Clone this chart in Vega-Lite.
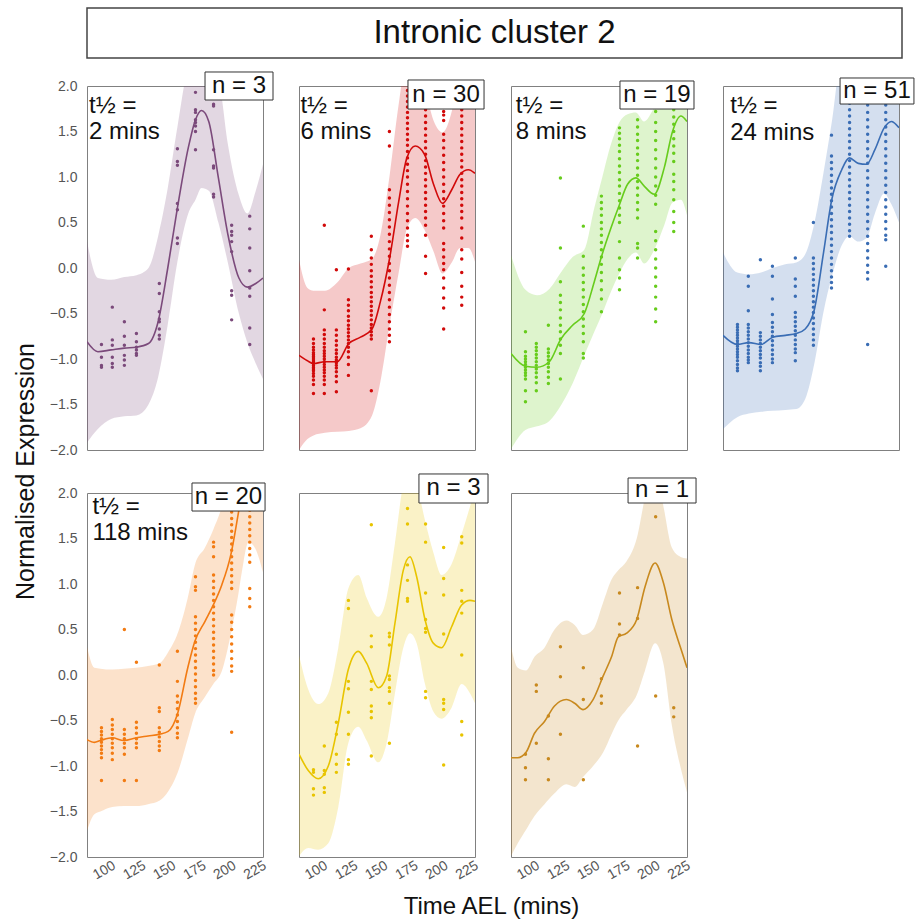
{
"$schema":"https://vega.github.io/schema/vega-lite/v6.json",
"padding":{"left":12,"top":7,"right":5,"bottom":5},
"config":{"font":"Liberation Sans","view":{"stroke":"#808080","strokeWidth":1},
"circle":{"size":12,"opacity":1},
"axis":{"grid":false,"ticks":false,"domain":false,"labelColor":"#555555","labelFontSize":14,"titleColor":"#111111","titleFontWeight":"normal"},
"axisX":{"labelAngle":-30,"labelAlign":"center","labelBaseline":"middle","labelPadding":13,"labelFlush":false},
"axisY":{"labelPadding":10}},
"datasets":{
"p1":[{"t":98,"v":-0.84},{"t":98,"v":-0.98},{"t":98,"v":-1.07},{"t":98,"v":-1.09},{"t":107,"v":-0.43},{"t":107,"v":-0.79},{"t":107,"v":-0.85},{"t":107,"v":-0.98},{"t":107,"v":-1.05},{"t":107,"v":-1.09},{"t":117,"v":-0.59},{"t":117,"v":-0.75},{"t":117,"v":-0.85},{"t":117,"v":-0.96},{"t":117,"v":-1.01},{"t":117,"v":-1.07},{"t":127,"v":-0.72},{"t":127,"v":-0.81},{"t":127,"v":-0.87},{"t":127,"v":-0.9},{"t":127,"v":-0.94},{"t":127,"v":-0.96},{"t":146,"v":-0.17},{"t":146,"v":-0.28},{"t":146,"v":-0.48},{"t":146,"v":-0.56},{"t":146,"v":-0.59},{"t":146,"v":-0.67},{"t":146,"v":-0.74},{"t":146,"v":-0.78},{"t":161,"v":1.31},{"t":161,"v":1.17},{"t":161,"v":1.13},{"t":161,"v":0.71},{"t":161,"v":0.64},{"t":161,"v":0.33},{"t":161,"v":0.27},{"t":176,"v":1.93},{"t":176,"v":1.74},{"t":176,"v":1.71},{"t":176,"v":1.63},{"t":176,"v":1.6},{"t":176,"v":1.56},{"t":176,"v":1.5},{"t":176,"v":1.3},{"t":191,"v":1.8},{"t":191,"v":1.78},{"t":191,"v":1.3},{"t":191,"v":1.12},{"t":191,"v":1.1},{"t":191,"v":0.81},{"t":191,"v":0.78},{"t":206,"v":0.47},{"t":206,"v":0.4},{"t":206,"v":0.36},{"t":206,"v":0.29},{"t":206,"v":0.18},{"t":206,"v":-0.25},{"t":206,"v":-0.3},{"t":206,"v":-0.57},{"t":221,"v":0.57},{"t":221,"v":0.43},{"t":221,"v":0.22},{"t":221,"v":-0.03},{"t":221,"v":-0.22},{"t":221,"v":-0.31},{"t":221,"v":-0.66},{"t":221,"v":-0.84}],
"p2":[{"t":98,"v":-0.78},{"t":98,"v":-0.83},{"t":98,"v":-0.87},{"t":98,"v":-0.9},{"t":98,"v":-0.93},{"t":98,"v":-0.95},{"t":98,"v":-0.97},{"t":98,"v":-0.99},{"t":98,"v":-1.01},{"t":98,"v":-1.03},{"t":98,"v":-1.05},{"t":98,"v":-1.07},{"t":98,"v":-1.09},{"t":98,"v":-1.11},{"t":98,"v":-1.13},{"t":98,"v":-1.16},{"t":98,"v":-1.19},{"t":98,"v":-1.23},{"t":98,"v":-1.28},{"t":98,"v":-1.38},
{"t":107,"v":0.47},{"t":107,"v":-0.46},{"t":107,"v":-0.68},{"t":107,"v":-0.73},{"t":107,"v":-0.78},{"t":107,"v":-0.83},{"t":107,"v":-0.87},{"t":107,"v":-0.91},{"t":107,"v":-0.94},{"t":107,"v":-0.97},{"t":107,"v":-1.0},{"t":107,"v":-1.03},{"t":107,"v":-1.06},{"t":107,"v":-1.09},{"t":107,"v":-1.12},{"t":107,"v":-1.15},{"t":107,"v":-1.19},{"t":107,"v":-1.23},{"t":107,"v":-1.28},{"t":107,"v":-1.38},
{"t":117,"v":-0.02},{"t":117,"v":-0.68},{"t":117,"v":-0.74},{"t":117,"v":-0.8},{"t":117,"v":-0.85},{"t":117,"v":-0.9},{"t":117,"v":-0.94},{"t":117,"v":-0.98},{"t":117,"v":-1.01},{"t":117,"v":-1.04},{"t":117,"v":-1.07},{"t":117,"v":-1.1},{"t":117,"v":-1.14},{"t":117,"v":-1.19},{"t":117,"v":-1.25},{"t":117,"v":-1.36},
{"t":127,"v":-0.01},{"t":127,"v":-0.35},{"t":127,"v":-0.41},{"t":127,"v":-0.47},{"t":127,"v":-0.53},{"t":127,"v":-0.58},{"t":127,"v":-0.63},{"t":127,"v":-0.67},{"t":127,"v":-0.71},{"t":127,"v":-0.75},{"t":127,"v":-0.79},{"t":127,"v":-0.83},{"t":127,"v":-0.87},{"t":127,"v":-0.92},{"t":127,"v":-0.98},{"t":127,"v":-1.06},{"t":127,"v":-1.18},
{"t":146,"v":0.35},{"t":146,"v":0.2},{"t":146,"v":0.11},{"t":146,"v":0.04},{"t":146,"v":-0.03},{"t":146,"v":-0.09},{"t":146,"v":-0.15},{"t":146,"v":-0.21},{"t":146,"v":-0.27},{"t":146,"v":-0.32},{"t":146,"v":-0.37},{"t":146,"v":-0.42},{"t":146,"v":-0.47},{"t":146,"v":-0.52},{"t":146,"v":-0.57},{"t":146,"v":-0.62},{"t":146,"v":-0.66},{"t":146,"v":-0.7},{"t":146,"v":-0.74},{"t":146,"v":-0.78},{"t":146,"v":-1.35},
{"t":161,"v":1.5},{"t":161,"v":1.34},{"t":161,"v":0.86},{"t":161,"v":0.77},{"t":161,"v":0.69},{"t":161,"v":0.61},{"t":161,"v":0.53},{"t":161,"v":0.45},{"t":161,"v":0.37},{"t":161,"v":0.29},{"t":161,"v":0.21},{"t":161,"v":0.13},{"t":161,"v":0.05},{"t":161,"v":-0.03},{"t":161,"v":-0.11},{"t":161,"v":-0.19},{"t":161,"v":-0.27},{"t":161,"v":-0.35},{"t":161,"v":-0.43},{"t":161,"v":-0.51},{"t":161,"v":-0.59},{"t":161,"v":-0.67},{"t":161,"v":-0.74},{"t":161,"v":-0.81},
{"t":176,"v":1.95},{"t":176,"v":1.89},{"t":176,"v":1.83},{"t":176,"v":1.77},{"t":176,"v":1.71},{"t":176,"v":1.65},{"t":176,"v":1.59},{"t":176,"v":1.53},{"t":176,"v":1.47},{"t":176,"v":1.41},{"t":176,"v":1.35},{"t":176,"v":1.28},{"t":176,"v":1.21},{"t":176,"v":1.14},{"t":176,"v":1.07},{"t":176,"v":1.0},{"t":176,"v":0.92},{"t":176,"v":0.84},{"t":176,"v":0.76},{"t":176,"v":0.68},{"t":176,"v":0.6},{"t":176,"v":0.52},{"t":176,"v":0.44},{"t":176,"v":0.36},{"t":176,"v":0.3},{"t":176,"v":0.24},
{"t":191,"v":1.95},{"t":191,"v":1.88},{"t":191,"v":1.81},{"t":191,"v":1.74},{"t":191,"v":1.67},{"t":191,"v":1.6},{"t":191,"v":1.53},{"t":191,"v":1.46},{"t":191,"v":1.39},{"t":191,"v":1.32},{"t":191,"v":1.25},{"t":191,"v":1.18},{"t":191,"v":1.11},{"t":191,"v":1.04},{"t":191,"v":0.97},{"t":191,"v":0.9},{"t":191,"v":0.83},{"t":191,"v":0.76},{"t":191,"v":0.69},{"t":191,"v":0.62},{"t":191,"v":0.55},{"t":191,"v":0.47},{"t":191,"v":0.36},{"t":191,"v":0.13},{"t":191,"v":-0.06},
{"t":206,"v":1.72},{"t":206,"v":1.68},{"t":206,"v":1.62},{"t":206,"v":1.47},{"t":206,"v":1.4},{"t":206,"v":1.32},{"t":206,"v":1.24},{"t":206,"v":1.16},{"t":206,"v":1.08},{"t":206,"v":1.0},{"t":206,"v":0.92},{"t":206,"v":0.84},{"t":206,"v":0.76},{"t":206,"v":0.68},{"t":206,"v":0.6},{"t":206,"v":0.52},{"t":206,"v":0.44},{"t":206,"v":0.27},{"t":206,"v":0.2},{"t":206,"v":0.12},{"t":206,"v":0.05},{"t":206,"v":-0.02},{"t":206,"v":-0.11},{"t":206,"v":-0.22},{"t":206,"v":-0.33},{"t":206,"v":-0.44},{"t":206,"v":-0.67},
{"t":221,"v":1.95},{"t":221,"v":1.88},{"t":221,"v":1.81},{"t":221,"v":1.74},{"t":221,"v":1.67},{"t":221,"v":1.6},{"t":221,"v":1.53},{"t":221,"v":1.46},{"t":221,"v":1.39},{"t":221,"v":1.32},{"t":221,"v":1.25},{"t":221,"v":1.18},{"t":221,"v":1.11},{"t":221,"v":1.04},{"t":221,"v":0.97},{"t":221,"v":0.9},{"t":221,"v":0.83},{"t":221,"v":0.76},{"t":221,"v":0.69},{"t":221,"v":0.62},{"t":221,"v":0.55},{"t":221,"v":0.44},{"t":221,"v":0.33},{"t":221,"v":0.2},{"t":221,"v":0.1},{"t":221,"v":-0.05},{"t":221,"v":-0.2},{"t":221,"v":-0.32},{"t":221,"v":-0.41}],
"p3":[{"t":98,"v":-0.7},{"t":98,"v":-0.92},{"t":98,"v":-0.97},{"t":98,"v":-1.0},{"t":98,"v":-1.03},{"t":98,"v":-1.06},{"t":98,"v":-1.09},{"t":98,"v":-1.12},{"t":98,"v":-1.15},{"t":98,"v":-1.18},{"t":98,"v":-1.22},{"t":98,"v":-1.35},{"t":98,"v":-1.47},
{"t":107,"v":-0.83},{"t":107,"v":-0.87},{"t":107,"v":-0.91},{"t":107,"v":-0.95},{"t":107,"v":-0.99},{"t":107,"v":-1.03},{"t":107,"v":-1.07},{"t":107,"v":-1.11},{"t":107,"v":-1.15},{"t":107,"v":-1.2},{"t":107,"v":-1.26},{"t":107,"v":-1.35},
{"t":117,"v":-0.63},{"t":117,"v":-0.89},{"t":117,"v":-0.93},{"t":117,"v":-0.97},{"t":117,"v":-1.01},{"t":117,"v":-1.05},{"t":117,"v":-1.09},{"t":117,"v":-1.14},{"t":117,"v":-1.2},{"t":117,"v":-1.27},
{"t":127,"v":0.99},{"t":127,"v":0.22},{"t":127,"v":-0.15},{"t":127,"v":-0.3},{"t":127,"v":-0.38},{"t":127,"v":-0.46},{"t":127,"v":-0.55},{"t":127,"v":-0.63},{"t":127,"v":-0.7},{"t":127,"v":-0.78},{"t":127,"v":-0.85},{"t":127,"v":-0.94},{"t":127,"v":-1.22},
{"t":146,"v":0.46},{"t":146,"v":0.13},{"t":146,"v":0.0},{"t":146,"v":-0.08},{"t":146,"v":-0.16},{"t":146,"v":-0.24},{"t":146,"v":-0.32},{"t":146,"v":-0.4},{"t":146,"v":-0.48},{"t":146,"v":-0.56},{"t":146,"v":-0.64},{"t":146,"v":-0.72},{"t":146,"v":-0.81},{"t":146,"v":-0.94},{"t":146,"v":-0.99},
{"t":161,"v":0.79},{"t":161,"v":0.72},{"t":161,"v":0.65},{"t":161,"v":0.58},{"t":161,"v":0.5},{"t":161,"v":0.43},{"t":161,"v":0.36},{"t":161,"v":0.28},{"t":161,"v":0.2},{"t":161,"v":0.12},{"t":161,"v":0.04},{"t":161,"v":-0.05},{"t":161,"v":-0.14},{"t":161,"v":-0.24},{"t":161,"v":-0.34},{"t":161,"v":-0.48},
{"t":176,"v":1.54},{"t":176,"v":1.48},{"t":176,"v":1.42},{"t":176,"v":1.35},{"t":176,"v":1.28},{"t":176,"v":1.2},{"t":176,"v":1.12},{"t":176,"v":1.05},{"t":176,"v":0.97},{"t":176,"v":0.9},{"t":176,"v":0.82},{"t":176,"v":0.74},{"t":176,"v":0.66},{"t":176,"v":0.58},{"t":176,"v":0.5},{"t":176,"v":0.29},{"t":176,"v":0.11},{"t":176,"v":-0.02},{"t":176,"v":-0.11},{"t":176,"v":-0.24},
{"t":191,"v":1.63},{"t":191,"v":1.55},{"t":191,"v":1.47},{"t":191,"v":1.4},{"t":191,"v":1.32},{"t":191,"v":1.25},{"t":191,"v":1.18},{"t":191,"v":1.1},{"t":191,"v":1.02},{"t":191,"v":0.95},{"t":191,"v":0.88},{"t":191,"v":0.8},{"t":191,"v":0.72},{"t":191,"v":0.64},{"t":191,"v":0.55},{"t":191,"v":0.27},{"t":191,"v":0.22},{"t":191,"v":0.11},
{"t":206,"v":1.9},{"t":206,"v":1.72},{"t":206,"v":1.6},{"t":206,"v":1.5},{"t":206,"v":1.4},{"t":206,"v":1.3},{"t":206,"v":1.2},{"t":206,"v":1.1},{"t":206,"v":1.0},{"t":206,"v":0.9},{"t":206,"v":0.8},{"t":206,"v":0.7},{"t":206,"v":0.4},{"t":206,"v":0.3},{"t":206,"v":0.2},{"t":206,"v":0.1},{"t":206,"v":0.0},{"t":206,"v":-0.1},{"t":206,"v":-0.2},{"t":206,"v":-0.32},{"t":206,"v":-0.45},{"t":206,"v":-0.59},
{"t":221,"v":1.95},{"t":221,"v":1.88},{"t":221,"v":1.8},{"t":221,"v":1.74},{"t":221,"v":1.66},{"t":221,"v":1.58},{"t":221,"v":1.5},{"t":221,"v":1.42},{"t":221,"v":1.34},{"t":221,"v":1.26},{"t":221,"v":1.17},{"t":221,"v":1.03},{"t":221,"v":0.95},{"t":221,"v":0.86},{"t":221,"v":0.75},{"t":221,"v":0.62},{"t":221,"v":0.5},{"t":221,"v":0.4}],
"p4":[{"t":98,"v":-0.62},{"t":98,"v":-0.65},{"t":98,"v":-0.68},{"t":98,"v":-0.71},{"t":98,"v":-0.74},{"t":98,"v":-0.77},{"t":98,"v":-0.8},{"t":98,"v":-0.83},{"t":98,"v":-0.86},{"t":98,"v":-0.89},{"t":98,"v":-0.92},{"t":98,"v":-0.95},{"t":98,"v":-0.98},{"t":98,"v":-1.02},{"t":98,"v":-1.06},{"t":98,"v":-1.1},{"t":98,"v":-1.13},
{"t":107,"v":-0.09},{"t":107,"v":-0.2},{"t":107,"v":-0.47},{"t":107,"v":-0.62},{"t":107,"v":-0.66},{"t":107,"v":-0.7},{"t":107,"v":-0.74},{"t":107,"v":-0.78},{"t":107,"v":-0.82},{"t":107,"v":-0.86},{"t":107,"v":-0.9},{"t":107,"v":-0.94},{"t":107,"v":-0.98},{"t":107,"v":-1.01},{"t":107,"v":-1.04},
{"t":117,"v":0.09},{"t":117,"v":-0.71},{"t":117,"v":-0.75},{"t":117,"v":-0.79},{"t":117,"v":-0.83},{"t":117,"v":-0.87},{"t":117,"v":-0.91},{"t":117,"v":-0.95},{"t":117,"v":-0.99},{"t":117,"v":-1.04},{"t":117,"v":-1.08},{"t":117,"v":-1.13},
{"t":127,"v":0.02},{"t":127,"v":-0.09},{"t":127,"v":-0.34},{"t":127,"v":-0.51},{"t":127,"v":-0.6},{"t":127,"v":-0.65},{"t":127,"v":-0.7},{"t":127,"v":-0.75},{"t":127,"v":-0.8},{"t":127,"v":-0.85},{"t":127,"v":-0.9},{"t":127,"v":-0.95},{"t":127,"v":-1.0},{"t":127,"v":-1.04},
{"t":146,"v":0.11},{"t":146,"v":-0.12},{"t":146,"v":-0.2},{"t":146,"v":-0.31},{"t":146,"v":-0.49},{"t":146,"v":-0.54},{"t":146,"v":-0.59},{"t":146,"v":-0.64},{"t":146,"v":-0.69},{"t":146,"v":-0.74},{"t":146,"v":-0.79},{"t":146,"v":-0.84},{"t":146,"v":-0.89},{"t":146,"v":-0.93},{"t":146,"v":-1.02},
{"t":161,"v":0.5},{"t":161,"v":0.11},{"t":161,"v":0.05},{"t":161,"v":-0.01},{"t":161,"v":-0.07},{"t":161,"v":-0.13},{"t":161,"v":-0.19},{"t":161,"v":-0.25},{"t":161,"v":-0.31},{"t":161,"v":-0.37},{"t":161,"v":-0.43},{"t":161,"v":-0.49},{"t":161,"v":-0.55},{"t":161,"v":-0.61},{"t":161,"v":-0.67},{"t":161,"v":-0.73},{"t":161,"v":-0.79},{"t":161,"v":-0.85},
{"t":176,"v":1.46},{"t":176,"v":1.23},{"t":176,"v":1.16},{"t":176,"v":1.09},{"t":176,"v":1.02},{"t":176,"v":0.95},{"t":176,"v":0.88},{"t":176,"v":0.81},{"t":176,"v":0.74},{"t":176,"v":0.67},{"t":176,"v":0.6},{"t":176,"v":0.53},{"t":176,"v":0.46},{"t":176,"v":0.39},{"t":176,"v":0.32},{"t":176,"v":0.25},{"t":176,"v":0.18},{"t":176,"v":0.11},{"t":176,"v":0.04},{"t":176,"v":-0.03},{"t":176,"v":-0.1},{"t":176,"v":-0.16},{"t":176,"v":-0.22},
{"t":191,"v":1.95},{"t":191,"v":1.88},{"t":191,"v":1.81},{"t":191,"v":1.74},{"t":191,"v":1.67},{"t":191,"v":1.6},{"t":191,"v":1.53},{"t":191,"v":1.46},{"t":191,"v":1.39},{"t":191,"v":1.32},{"t":191,"v":1.25},{"t":191,"v":1.18},{"t":191,"v":1.11},{"t":191,"v":1.04},{"t":191,"v":0.97},{"t":191,"v":0.9},{"t":191,"v":0.83},{"t":191,"v":0.76},{"t":191,"v":0.69},{"t":191,"v":0.62},{"t":191,"v":0.55},{"t":191,"v":0.48},{"t":191,"v":0.41},{"t":191,"v":0.35},
{"t":206,"v":1.95},{"t":206,"v":1.87},{"t":206,"v":1.79},{"t":206,"v":1.71},{"t":206,"v":1.63},{"t":206,"v":1.55},{"t":206,"v":1.47},{"t":206,"v":1.39},{"t":206,"v":1.31},{"t":206,"v":1.23},{"t":206,"v":1.15},{"t":206,"v":1.07},{"t":206,"v":0.99},{"t":206,"v":0.91},{"t":206,"v":0.83},{"t":206,"v":0.75},{"t":206,"v":0.67},{"t":206,"v":0.59},{"t":206,"v":0.51},{"t":206,"v":0.43},{"t":206,"v":0.35},{"t":206,"v":0.27},{"t":206,"v":0.19},{"t":206,"v":0.11},{"t":206,"v":0.03},{"t":206,"v":-0.05},{"t":206,"v":-0.12},{"t":206,"v":-0.84},
{"t":221,"v":1.95},{"t":221,"v":1.87},{"t":221,"v":1.79},{"t":221,"v":1.71},{"t":221,"v":1.63},{"t":221,"v":1.55},{"t":221,"v":1.47},{"t":221,"v":1.39},{"t":221,"v":1.31},{"t":221,"v":1.23},{"t":221,"v":1.15},{"t":221,"v":1.07},{"t":221,"v":0.99},{"t":221,"v":0.91},{"t":221,"v":0.83},{"t":221,"v":0.75},{"t":221,"v":0.67},{"t":221,"v":0.59},{"t":221,"v":0.51},{"t":221,"v":0.43},{"t":221,"v":0.36},{"t":221,"v":0.31},{"t":221,"v":0.02}],
"p5":[{"t":98,"v":-0.58},{"t":98,"v":-0.62},{"t":98,"v":-0.66},{"t":98,"v":-0.7},{"t":98,"v":-0.74},{"t":98,"v":-0.78},{"t":98,"v":-0.82},{"t":98,"v":-0.86},{"t":98,"v":-0.91},{"t":98,"v":-1.16},
{"t":107,"v":-0.49},{"t":107,"v":-0.55},{"t":107,"v":-0.6},{"t":107,"v":-0.65},{"t":107,"v":-0.7},{"t":107,"v":-0.75},{"t":107,"v":-0.8},{"t":107,"v":-0.86},{"t":107,"v":-0.93},
{"t":117,"v":0.5},{"t":117,"v":-0.6},{"t":117,"v":-0.65},{"t":117,"v":-0.7},{"t":117,"v":-0.75},{"t":117,"v":-0.8},{"t":117,"v":-0.87},{"t":117,"v":-1.16},
{"t":127,"v":0.14},{"t":127,"v":-0.52},{"t":127,"v":-0.58},{"t":127,"v":-0.64},{"t":127,"v":-0.7},{"t":127,"v":-0.75},{"t":127,"v":-0.8},{"t":127,"v":-1.16},
{"t":146,"v":0.11},{"t":146,"v":-0.36},{"t":146,"v":-0.4},{"t":146,"v":-0.58},{"t":146,"v":-0.63},{"t":146,"v":-0.68},{"t":146,"v":-0.73},{"t":146,"v":-0.78},{"t":146,"v":-0.83},
{"t":161,"v":0.26},{"t":161,"v":-0.07},{"t":161,"v":-0.23},{"t":161,"v":-0.3},{"t":161,"v":-0.37},{"t":161,"v":-0.44},{"t":161,"v":-0.51},{"t":161,"v":-0.58},{"t":161,"v":-0.64},{"t":161,"v":-0.69},
{"t":176,"v":1.08},{"t":176,"v":0.97},{"t":176,"v":0.93},{"t":176,"v":0.64},{"t":176,"v":0.57},{"t":176,"v":0.5},{"t":176,"v":0.43},{"t":176,"v":0.36},{"t":176,"v":0.29},{"t":176,"v":0.22},{"t":176,"v":0.15},{"t":176,"v":0.08},{"t":176,"v":0.01},{"t":176,"v":-0.06},{"t":176,"v":-0.13},{"t":176,"v":-0.2},{"t":176,"v":-0.26},{"t":176,"v":-0.31},
{"t":191,"v":1.46},{"t":191,"v":1.41},{"t":191,"v":1.3},{"t":191,"v":1.1},{"t":191,"v":1.03},{"t":191,"v":0.96},{"t":191,"v":0.89},{"t":191,"v":0.82},{"t":191,"v":0.75},{"t":191,"v":0.68},{"t":191,"v":0.61},{"t":191,"v":0.54},{"t":191,"v":0.47},{"t":191,"v":0.4},{"t":191,"v":0.33},{"t":191,"v":0.26},{"t":191,"v":0.19},{"t":191,"v":0.12},{"t":191,"v":0.05},{"t":191,"v":0.0},
{"t":206,"v":1.79},{"t":206,"v":1.72},{"t":206,"v":1.65},{"t":206,"v":1.58},{"t":206,"v":1.51},{"t":206,"v":1.44},{"t":206,"v":1.37},{"t":206,"v":1.3},{"t":206,"v":1.23},{"t":206,"v":1.16},{"t":206,"v":1.09},{"t":206,"v":1.02},{"t":206,"v":0.95},{"t":206,"v":0.66},{"t":206,"v":0.58},{"t":206,"v":0.5},{"t":206,"v":0.42},{"t":206,"v":0.34},{"t":206,"v":0.26},{"t":206,"v":0.18},{"t":206,"v":0.1},{"t":206,"v":0.04},{"t":206,"v":-0.63},
{"t":221,"v":1.95},{"t":221,"v":1.88},{"t":221,"v":1.81},{"t":221,"v":1.74},{"t":221,"v":1.67},{"t":221,"v":1.6},{"t":221,"v":1.53},{"t":221,"v":1.46},{"t":221,"v":1.39},{"t":221,"v":1.32},{"t":221,"v":1.24},{"t":221,"v":0.95},{"t":221,"v":0.84},{"t":221,"v":0.75}],
"p6":[{"t":98,"v":-1.04},{"t":98,"v":-1.07},{"t":98,"v":-1.25},{"t":98,"v":-1.32},{"t":107,"v":-0.78},{"t":107,"v":-1.05},{"t":107,"v":-1.09},{"t":107,"v":-1.24},{"t":107,"v":-1.29},{"t":117,"v":-0.52},{"t":117,"v":-0.65},{"t":117,"v":-0.87},{"t":117,"v":-0.98},{"t":117,"v":-1.07},{"t":127,"v":0.82},{"t":127,"v":0.73},{"t":127,"v":-0.07},{"t":127,"v":-0.15},{"t":127,"v":-0.41},{"t":127,"v":-0.65},{"t":127,"v":-0.93},{"t":127,"v":-0.98},{"t":146,"v":1.65},{"t":146,"v":0.43},{"t":146,"v":0.31},{"t":146,"v":-0.07},{"t":146,"v":-0.16},{"t":146,"v":-0.34},{"t":146,"v":-0.4},{"t":146,"v":-0.47},{"t":146,"v":-0.89},{"t":161,"v":0.46},{"t":161,"v":0.42},{"t":161,"v":0.33},{"t":161,"v":-0.01},{"t":161,"v":-0.05},{"t":161,"v":-0.14},{"t":161,"v":-0.18},{"t":161,"v":-0.31},{"t":161,"v":-0.75},{"t":176,"v":1.83},{"t":176,"v":1.66},{"t":176,"v":1.21},{"t":176,"v":1.04},{"t":176,"v":0.84},{"t":176,"v":0.81},{"t":191,"v":1.66},{"t":191,"v":1.46},{"t":191,"v":0.9},{"t":191,"v":0.61},{"t":191,"v":0.51},{"t":191,"v":0.47},{"t":191,"v":-0.18},{"t":191,"v":-0.25},{"t":206,"v":1.4},{"t":206,"v":1.06},{"t":206,"v":0.88},{"t":206,"v":0.45},{"t":206,"v":-0.27},{"t":206,"v":-0.31},{"t":206,"v":-0.38},{"t":206,"v":-0.99},{"t":221,"v":1.52},{"t":221,"v":1.45},{"t":221,"v":0.93},{"t":221,"v":0.81},{"t":221,"v":0.68},{"t":221,"v":0.22},{"t":221,"v":-0.51},{"t":221,"v":-0.66}],
"p7":[{"t":98,"v":-0.87},{"t":98,"v":-1.02},{"t":98,"v":-1.15},{"t":107,"v":-0.11},{"t":107,"v":-0.18},{"t":107,"v":-0.75},{"t":117,"v":-0.45},{"t":117,"v":-0.92},{"t":117,"v":-1.15},{"t":127,"v":0.31},{"t":127,"v":-0.02},{"t":127,"v":-0.65},{"t":146,"v":0.08},{"t":146,"v":-0.27},{"t":146,"v":-1.15},{"t":161,"v":-0.04},{"t":161,"v":-0.23},{"t":161,"v":-0.31},{"t":176,"v":0.9},{"t":176,"v":0.56},{"t":176,"v":0.44},{"t":191,"v":0.96},{"t":191,"v":0.62},{"t":191,"v":-0.78},{"t":206,"v":1.74},{"t":206,"v":-0.23},{"t":221,"v":-0.36},{"t":221,"v":-0.46}],
"c1":[{"t":86,"m":-0.81,"lo":-1.92,"hi":0.29},{"t":95,"m":-0.92,"lo":-1.77,"hi":-0.11},{"t":106,"m":-0.9,"lo":-1.66,"hi":-0.13},{"t":117,"m":-0.88,"lo":-1.63,"hi":-0.1},{"t":127,"m":-0.87,"lo":-1.62,"hi":-0.08},{"t":137,"m":-0.83,"lo":-1.5,"hi":0.0},{"t":145,"m":-0.59,"lo":-1.2,"hi":0.35},{"t":153,"m":0.0,"lo":-0.62,"hi":0.88},{"t":161,"m":0.66,"lo":0.07,"hi":1.55},{"t":170,"m":1.32,"lo":0.6,"hi":2.2},{"t":176,"m":1.63,"lo":0.75,"hi":2.3},{"t":181,"m":1.73,"lo":0.88,"hi":2.3},{"t":187,"m":1.61,"lo":0.85,"hi":2.3},{"t":195,"m":0.99,"lo":0.5,"hi":2.1},{"t":203,"m":0.36,"lo":0.05,"hi":1.35},{"t":212,"m":-0.11,"lo":-0.5,"hi":0.8},{"t":219,"m":-0.21,"lo":-0.82,"hi":0.6},{"t":226,"m":-0.17,"lo":-1.05,"hi":0.85},{"t":232,"m":-0.11,"lo":-1.22,"hi":1.14}],
"c2":[{"t":86,"m":-0.96,"lo":-2.0,"hi":0.09},{"t":93,"m":-1.02,"lo":-1.88,"hi":-0.22},{"t":98,"m":-1.05,"lo":-1.84,"hi":-0.25},{"t":107.5,"m":-1.03,"lo":-1.81,"hi":-0.25},{"t":117.7,"m":-1.03,"lo":-1.8,"hi":-0.16},{"t":127.3,"m":-0.83,"lo":-1.79,"hi":0.0},{"t":137,"m":-0.76,"lo":-1.76,"hi":0.05},{"t":146.6,"m":-0.67,"lo":-1.62,"hi":0.1},{"t":153.5,"m":-0.37,"lo":-1.25,"hi":0.36},{"t":161.2,"m":0.11,"lo":-0.62,"hi":1.02},{"t":168.7,"m":0.73,"lo":-0.05,"hi":1.8},{"t":175.5,"m":1.21,"lo":0.43,"hi":2.3},{"t":182.4,"m":1.34,"lo":0.55,"hi":2.3},{"t":190.1,"m":1.25,"lo":0.42,"hi":2.0},{"t":197.6,"m":0.92,"lo":0.18,"hi":1.62},{"t":205,"m":0.71,"lo":-0.06,"hi":1.49},{"t":212.7,"m":0.86,"lo":0.06,"hi":1.72},{"t":219.6,"m":1.03,"lo":0.22,"hi":2.2},{"t":226.5,"m":1.08,"lo":0.22,"hi":2.3},{"t":232,"m":1.04,"lo":0.07,"hi":2.3}],
"c3":[{"t":86,"m":-0.94,"lo":-1.99,"hi":0.14},{"t":98,"m":-1.08,"lo":-1.78,"hi":-0.24},{"t":107.6,"m":-1.09,"lo":-1.74,"hi":-0.3},{"t":117.8,"m":-1.03,"lo":-1.68,"hi":-0.23},{"t":127.4,"m":-0.78,"lo":-1.51,"hi":-0.05},{"t":137.1,"m":-0.63,"lo":-1.27,"hi":0.12},{"t":146.8,"m":-0.5,"lo":-0.96,"hi":0.2},{"t":155.1,"m":-0.15,"lo":-0.7,"hi":0.66},{"t":161.4,"m":0.14,"lo":-0.51,"hi":0.98},{"t":168.9,"m":0.44,"lo":-0.26,"hi":1.36},{"t":175.8,"m":0.69,"lo":-0.06,"hi":1.6},{"t":182.7,"m":0.92,"lo":0.1,"hi":1.69},{"t":189.6,"m":0.99,"lo":0.17,"hi":1.71},{"t":196.5,"m":0.9,"lo":0.05,"hi":1.61},{"t":204.8,"m":0.81,"lo":0.2,"hi":1.76},{"t":213.1,"m":1.1,"lo":0.47,"hi":1.95},{"t":220,"m":1.5,"lo":0.72,"hi":2.3},{"t":226.9,"m":1.67,"lo":0.75,"hi":2.3},{"t":232,"m":1.61,"lo":0.58,"hi":2.3}],
"c4":[{"t":86,"m":-0.74,"lo":-1.77,"hi":0.17},{"t":97.8,"m":-0.84,"lo":-1.64,"hi":-0.05},{"t":107.5,"m":-0.82,"lo":-1.6,"hi":-0.07},{"t":117.6,"m":-0.84,"lo":-1.58,"hi":-0.05},{"t":127.3,"m":-0.76,"lo":-1.57,"hi":0.0},{"t":137.7,"m":-0.74,"lo":-1.56,"hi":0.04},{"t":146.8,"m":-0.72,"lo":-1.55,"hi":0.06},{"t":154.2,"m":-0.67,"lo":-1.44,"hi":0.15},{"t":161.9,"m":-0.45,"lo":-1.04,"hi":0.5},{"t":169.4,"m":0.17,"lo":-0.48,"hi":1.05},{"t":176.2,"m":0.75,"lo":-0.1,"hi":1.6},{"t":184.5,"m":1.08,"lo":0.25,"hi":2.3},{"t":190.8,"m":1.21,"lo":0.35,"hi":2.3},{"t":198.2,"m":1.15,"lo":0.29,"hi":2.3},{"t":205.1,"m":1.14,"lo":0.33,"hi":2.3},{"t":212,"m":1.3,"lo":0.6,"hi":2.3},{"t":219.7,"m":1.54,"lo":0.82,"hi":2.3},{"t":225.7,"m":1.61,"lo":0.7,"hi":2.3},{"t":232,"m":1.54,"lo":0.5,"hi":2.3}],
"c5":[{"t":86,"m":-0.71,"lo":-1.71,"hi":0.31},{"t":92.1,"m":-0.74,"lo":-1.53,"hi":0.08},{"t":97.1,"m":-0.72,"lo":-1.5,"hi":0.07},{"t":106.9,"m":-0.69,"lo":-1.45,"hi":0.06},{"t":116.6,"m":-0.72,"lo":-1.44,"hi":0.07},{"t":126.9,"m":-0.69,"lo":-1.44,"hi":0.08},{"t":136.6,"m":-0.67,"lo":-1.42,"hi":0.1},{"t":146.3,"m":-0.65,"lo":-1.38,"hi":0.13},{"t":153.3,"m":-0.62,"lo":-1.28,"hi":0.25},{"t":161,"m":-0.43,"lo":-1.08,"hi":0.45},{"t":169.6,"m":0.08,"lo":-0.7,"hi":0.85},{"t":175.5,"m":0.37,"lo":-0.43,"hi":1.21},{"t":183.9,"m":0.59,"lo":-0.24,"hi":1.4},{"t":190.8,"m":0.77,"lo":-0.1,"hi":1.6},{"t":197.8,"m":0.99,"lo":0.04,"hi":1.85},{"t":205.3,"m":1.32,"lo":0.45,"hi":2.3},{"t":211.7,"m":1.79,"lo":0.9,"hi":2.5},{"t":214.4,"m":2.0,"lo":1.13,"hi":2.6},{"t":220,"m":2.4,"lo":1.46,"hi":2.7},{"t":225.6,"m":2.5,"lo":1.39,"hi":2.8},{"t":232,"m":2.6,"lo":1.13,"hi":2.8}],
"c6":[{"t":86,"m":-0.87,"lo":-1.99,"hi":0.22},{"t":93.7,"m":-1.05,"lo":-1.9,"hi":-0.16},{"t":102,"m":-1.14,"lo":-1.92,"hi":-0.32},{"t":110.3,"m":-1.0,"lo":-1.85,"hi":-0.2},{"t":118.6,"m":-0.53,"lo":-1.45,"hi":0.3},{"t":126.9,"m":0.06,"lo":-0.75,"hi":0.95},{"t":135.2,"m":0.26,"lo":-0.57,"hi":1.1},{"t":142.1,"m":0.13,"lo":-0.72,"hi":0.85},{"t":151.8,"m":-0.14,"lo":-0.96,"hi":0.64},{"t":158.7,"m":-0.01,"lo":-0.75,"hi":0.85},{"t":165.6,"m":0.57,"lo":-0.2,"hi":1.45},{"t":172.5,"m":1.15,"lo":0.3,"hi":2.1},{"t":178.1,"m":1.3,"lo":0.46,"hi":2.3},{"t":183.6,"m":1.08,"lo":0.35,"hi":2.1},{"t":190.5,"m":0.61,"lo":-0.1,"hi":1.7},{"t":197.4,"m":0.35,"lo":-0.4,"hi":1.35},{"t":204.3,"m":0.3,"lo":-0.48,"hi":1.1},{"t":212.6,"m":0.53,"lo":-0.36,"hi":1.22},{"t":220.9,"m":0.77,"lo":-0.1,"hi":1.55},{"t":227.8,"m":0.82,"lo":-0.2,"hi":1.85},{"t":232,"m":0.81,"lo":-0.31,"hi":2.05}],
"c7":[{"t":86,"m":-0.91,"lo":-1.99,"hi":0.31},{"t":91.6,"m":-0.91,"lo":-1.85,"hi":0.08},{"t":98.5,"m":-0.85,"lo":-1.7,"hi":0.05},{"t":105.5,"m":-0.64,"lo":-1.55,"hi":0.2},{"t":113.8,"m":-0.51,"lo":-1.42,"hi":0.3},{"t":122.1,"m":-0.34,"lo":-1.3,"hi":0.5},{"t":131.9,"m":-0.27,"lo":-1.2,"hi":0.6},{"t":138.8,"m":-0.31,"lo":-1.23,"hi":0.55},{"t":145.8,"m":-0.38,"lo":-1.12,"hi":0.44},{"t":154.1,"m":-0.27,"lo":-1.0,"hi":0.5},{"t":162.5,"m":-0.01,"lo":-0.85,"hi":0.8},{"t":169.4,"m":0.2,"lo":-0.65,"hi":1.05},{"t":175,"m":0.42,"lo":-0.5,"hi":1.15},{"t":181.9,"m":0.46,"lo":-0.38,"hi":1.25},{"t":190.3,"m":0.61,"lo":-0.22,"hi":1.5},{"t":197.2,"m":0.97,"lo":0.05,"hi":1.95},{"t":205.5,"m":1.23,"lo":0.35,"hi":2.3},{"t":212.5,"m":1.01,"lo":0.12,"hi":1.85},{"t":219.4,"m":0.61,"lo":-0.55,"hi":1.4},{"t":226.4,"m":0.31,"lo":-1.0,"hi":1.3},{"t":232,"m":0.08,"lo":-1.29,"hi":1.28}]
},
"bounds":"flush",
"spacing":28,
"vconcat":[
{"width":815,"height":50,"view":{"stroke":"#444444","strokeWidth":1.5},"data":{"values":[{"s":"Intronic cluster 2"}]},"mark":{"type":"text","fontSize":33,"color":"#111111","align":"center","baseline":"middle"},"encoding":{"text":{"field":"s"}}},
{"columns":4,"bounds":"flush","spacing":{"row":43,"column":36},"concat":[
{"width":176,"height":364,"layer":[
{"data":{"name":"c1"},"mark":{"type":"area","interpolate":"monotone","clip":true,"color":"#7b4a7b","opacity":0.22},"encoding":{"x":{"field":"t","type":"quantitative","scale":{"domain":[86,232]},"axis":null},"y":{"field":"lo","type":"quantitative","scale":{"domain":[-2,2]},"axis":{"values":[-2,-1.5,-1,-0.5,0,0.5,1,1.5,2],"format":".1f","title":null}},"y2":{"field":"hi"}}},
{"data":{"name":"c1"},"mark":{"type":"line","interpolate":"monotone","clip":true,"color":"#7b4a7b","strokeWidth":1.6},"encoding":{"x":{"field":"t","type":"quantitative","scale":{"domain":[86,232]},"axis":null},"y":{"field":"m","type":"quantitative","scale":{"domain":[-2,2]},"axis":{"values":[-2,-1.5,-1,-0.5,0,0.5,1,1.5,2],"format":".1f","title":null}}}},
{"data":{"name":"p1"},"mark":{"type":"circle","clip":true,"color":"#7b4a7b"},"encoding":{"x":{"field":"t","type":"quantitative","scale":{"domain":[86,232]},"axis":null},"y":{"field":"v","type":"quantitative","scale":{"domain":[-2,2]},"axis":{"values":[-2,-1.5,-1,-0.5,0,0.5,1,1.5,2],"format":".1f","title":null}}}},
{"data":{"values":[{"n":"n = 3"}]},"mark":{"type":"rect","fill":"#ffffff","stroke":"#333333","strokeWidth":1},"encoding":{"x":{"datum":183.9,"scale":{"domain":[86,232]},"axis":null},"x2":{"datum":240.3},"y":{"datum":2.154,"scale":{"domain":[-2,2]},"axis":{"values":[-2,-1.5,-1,-0.5,0,0.5,1,1.5,2],"format":".1f","title":null}},"y2":{"datum":1.846}}},
{"data":{"values":[{"n":"n = 3"}]},"mark":{"type":"text","fontSize":24,"color":"#111111"},"encoding":{"x":{"datum":212.1,"scale":{"domain":[86,232]},"axis":null},"y":{"datum":2.0,"scale":{"domain":[-2,2]},"axis":{"values":[-2,-1.5,-1,-0.5,0,0.5,1,1.5,2],"format":".1f","title":null}},"text":{"field":"n"}}},
{"data":{"values":[{"th":"t½ =\n2 mins"}]},"mark":{"type":"text","align":"left","baseline":"alphabetic","fontSize":24,"lineHeight":26,"lineBreak":"\n","color":"#111111"},"encoding":{"x":{"datum":87.7,"scale":{"domain":[86,232]},"axis":null},"y":{"datum":1.707,"scale":{"domain":[-2,2]},"axis":{"values":[-2,-1.5,-1,-0.5,0,0.5,1,1.5,2],"format":".1f","title":null}},"text":{"field":"th"}}}
]},
{"width":176,"height":364,"layer":[
{"data":{"name":"c2"},"mark":{"type":"area","interpolate":"monotone","clip":true,"color":"#d10a0a","opacity":0.22},"encoding":{"x":{"field":"t","type":"quantitative","scale":{"domain":[86,232]},"axis":null},"y":{"field":"lo","type":"quantitative","scale":{"domain":[-2,2]},"axis":null},"y2":{"field":"hi"}}},
{"data":{"name":"c2"},"mark":{"type":"line","interpolate":"monotone","clip":true,"color":"#d10a0a","strokeWidth":1.6},"encoding":{"x":{"field":"t","type":"quantitative","scale":{"domain":[86,232]},"axis":null},"y":{"field":"m","type":"quantitative","scale":{"domain":[-2,2]},"axis":null}}},
{"data":{"name":"p2"},"mark":{"type":"circle","clip":true,"color":"#d10a0a"},"encoding":{"x":{"field":"t","type":"quantitative","scale":{"domain":[86,232]},"axis":null},"y":{"field":"v","type":"quantitative","scale":{"domain":[-2,2]},"axis":null}}},
{"data":{"values":[{"n":"n = 30"}]},"mark":{"type":"rect","fill":"#ffffff","stroke":"#333333","strokeWidth":1},"encoding":{"x":{"datum":176.4,"scale":{"domain":[86,232]},"axis":null},"x2":{"datum":239.5},"y":{"datum":2.066,"scale":{"domain":[-2,2]},"axis":null},"y2":{"datum":1.747}}},
{"data":{"values":[{"n":"n = 30"}]},"mark":{"type":"text","fontSize":24,"color":"#111111"},"encoding":{"x":{"datum":208,"scale":{"domain":[86,232]},"axis":null},"y":{"datum":1.906,"scale":{"domain":[-2,2]},"axis":null},"text":{"field":"n"}}},
{"data":{"values":[{"th":"t½ =\n6 mins"}]},"mark":{"type":"text","align":"left","baseline":"alphabetic","fontSize":24,"lineHeight":26,"lineBreak":"\n","color":"#111111"},"encoding":{"x":{"datum":87.2,"scale":{"domain":[86,232]},"axis":null},"y":{"datum":1.707,"scale":{"domain":[-2,2]},"axis":null},"text":{"field":"th"}}}
]},
{"width":176,"height":364,"layer":[
{"data":{"name":"c3"},"mark":{"type":"area","interpolate":"monotone","clip":true,"color":"#67cc1c","opacity":0.22},"encoding":{"x":{"field":"t","type":"quantitative","scale":{"domain":[86,232]},"axis":null},"y":{"field":"lo","type":"quantitative","scale":{"domain":[-2,2]},"axis":null},"y2":{"field":"hi"}}},
{"data":{"name":"c3"},"mark":{"type":"line","interpolate":"monotone","clip":true,"color":"#67cc1c","strokeWidth":1.6},"encoding":{"x":{"field":"t","type":"quantitative","scale":{"domain":[86,232]},"axis":null},"y":{"field":"m","type":"quantitative","scale":{"domain":[-2,2]},"axis":null}}},
{"data":{"name":"p3"},"mark":{"type":"circle","clip":true,"color":"#67cc1c"},"encoding":{"x":{"field":"t","type":"quantitative","scale":{"domain":[86,232]},"axis":null},"y":{"field":"v","type":"quantitative","scale":{"domain":[-2,2]},"axis":null}}},
{"data":{"values":[{"n":"n = 19"}]},"mark":{"type":"rect","fill":"#ffffff","stroke":"#333333","strokeWidth":1},"encoding":{"x":{"datum":176.4,"scale":{"domain":[86,232]},"axis":null},"x2":{"datum":237.8},"y":{"datum":2.055,"scale":{"domain":[-2,2]},"axis":null},"y2":{"datum":1.747}}},
{"data":{"values":[{"n":"n = 19"}]},"mark":{"type":"text","fontSize":24,"color":"#111111"},"encoding":{"x":{"datum":207.1,"scale":{"domain":[86,232]},"axis":null},"y":{"datum":1.9,"scale":{"domain":[-2,2]},"axis":null},"text":{"field":"n"}}},
{"data":{"values":[{"th":"t½ =\n8 mins"}]},"mark":{"type":"text","align":"left","baseline":"alphabetic","fontSize":24,"lineHeight":26,"lineBreak":"\n","color":"#111111"},"encoding":{"x":{"datum":90,"scale":{"domain":[86,232]},"axis":null},"y":{"datum":1.707,"scale":{"domain":[-2,2]},"axis":null},"text":{"field":"th"}}}
]},
{"width":176,"height":364,"layer":[
{"data":{"name":"c4"},"mark":{"type":"area","interpolate":"monotone","clip":true,"color":"#3a6db4","opacity":0.22},"encoding":{"x":{"field":"t","type":"quantitative","scale":{"domain":[86,232]},"axis":null},"y":{"field":"lo","type":"quantitative","scale":{"domain":[-2,2]},"axis":null},"y2":{"field":"hi"}}},
{"data":{"name":"c4"},"mark":{"type":"line","interpolate":"monotone","clip":true,"color":"#3a6db4","strokeWidth":1.6},"encoding":{"x":{"field":"t","type":"quantitative","scale":{"domain":[86,232]},"axis":null},"y":{"field":"m","type":"quantitative","scale":{"domain":[-2,2]},"axis":null}}},
{"data":{"name":"p4"},"mark":{"type":"circle","clip":true,"color":"#3a6db4"},"encoding":{"x":{"field":"t","type":"quantitative","scale":{"domain":[86,232]},"axis":null},"y":{"field":"v","type":"quantitative","scale":{"domain":[-2,2]},"axis":null}}},
{"data":{"values":[{"n":"n = 51"}]},"mark":{"type":"rect","fill":"#ffffff","stroke":"#333333","strokeWidth":1},"encoding":{"x":{"datum":183.1,"scale":{"domain":[86,232]},"axis":null},"x2":{"datum":244.4},"y":{"datum":2.088,"scale":{"domain":[-2,2]},"axis":null},"y2":{"datum":1.802}}},
{"data":{"values":[{"n":"n = 51"}]},"mark":{"type":"text","fontSize":24,"color":"#111111"},"encoding":{"x":{"datum":213.8,"scale":{"domain":[86,232]},"axis":null},"y":{"datum":1.945,"scale":{"domain":[-2,2]},"axis":null},"text":{"field":"n"}}},
{"data":{"values":[{"th":"t½ =\n24 mins"}]},"mark":{"type":"text","align":"left","baseline":"alphabetic","fontSize":24,"lineHeight":27,"lineBreak":"\n","color":"#111111"},"encoding":{"x":{"datum":92,"scale":{"domain":[86,232]},"axis":null},"y":{"datum":1.707,"scale":{"domain":[-2,2]},"axis":null},"text":{"field":"th"}}}
]},
{"width":176,"height":364,"layer":[
{"data":{"name":"c5"},"mark":{"type":"area","interpolate":"monotone","clip":true,"color":"#f27b13","opacity":0.22},"encoding":{"x":{"field":"t","type":"quantitative","scale":{"domain":[86,232]},"axis":{"values":[100,125,150,175,200,225],"title":null}},"y":{"field":"lo","type":"quantitative","scale":{"domain":[-2,2]},"axis":{"values":[-2,-1.5,-1,-0.5,0,0.5,1,1.5,2],"format":".1f","title":"Normalised Expression","titleX":-62,"titleY":-22,"titleAngle":-90,"titleAlign":"center","titleBaseline":"middle","titleFontSize":25}},"y2":{"field":"hi"}}},
{"data":{"name":"c5"},"mark":{"type":"line","interpolate":"monotone","clip":true,"color":"#f27b13","strokeWidth":1.6},"encoding":{"x":{"field":"t","type":"quantitative","scale":{"domain":[86,232]},"axis":{"values":[100,125,150,175,200,225],"title":null}},"y":{"field":"m","type":"quantitative","scale":{"domain":[-2,2]},"axis":{"values":[-2,-1.5,-1,-0.5,0,0.5,1,1.5,2],"format":".1f","title":"Normalised Expression","titleX":-62,"titleY":-22,"titleAngle":-90,"titleAlign":"center","titleBaseline":"middle","titleFontSize":25}}}},
{"data":{"name":"p5"},"mark":{"type":"circle","clip":true,"color":"#f27b13"},"encoding":{"x":{"field":"t","type":"quantitative","scale":{"domain":[86,232]},"axis":{"values":[100,125,150,175,200,225],"title":null}},"y":{"field":"v","type":"quantitative","scale":{"domain":[-2,2]},"axis":{"values":[-2,-1.5,-1,-0.5,0,0.5,1,1.5,2],"format":".1f","title":"Normalised Expression","titleX":-62,"titleY":-22,"titleAngle":-90,"titleAlign":"center","titleBaseline":"middle","titleFontSize":25}}}},
{"data":{"values":[{"n":"n = 20"}]},"mark":{"type":"rect","fill":"#ffffff","stroke":"#333333","strokeWidth":1},"encoding":{"x":{"datum":173.1,"scale":{"domain":[86,232]},"axis":{"values":[100,125,150,175,200,225],"title":null}},"x2":{"datum":233.7},"y":{"datum":2.11,"scale":{"domain":[-2,2]},"axis":{"values":[-2,-1.5,-1,-0.5,0,0.5,1,1.5,2],"format":".1f","title":"Normalised Expression","titleX":-62,"titleY":-22,"titleAngle":-90,"titleAlign":"center","titleBaseline":"middle","titleFontSize":25}},"y2":{"datum":1.802}}},
{"data":{"values":[{"n":"n = 20"}]},"mark":{"type":"text","fontSize":24,"color":"#111111"},"encoding":{"x":{"datum":203.4,"scale":{"domain":[86,232]},"axis":{"values":[100,125,150,175,200,225],"title":null}},"y":{"datum":1.956,"scale":{"domain":[-2,2]},"axis":{"values":[-2,-1.5,-1,-0.5,0,0.5,1,1.5,2],"format":".1f","title":"Normalised Expression","titleX":-62,"titleY":-22,"titleAngle":-90,"titleAlign":"center","titleBaseline":"middle","titleFontSize":25}},"text":{"field":"n"}}},
{"data":{"values":[{"th":"t½ =\n118 mins"}]},"mark":{"type":"text","align":"left","baseline":"alphabetic","fontSize":24,"lineHeight":26,"lineBreak":"\n","color":"#111111"},"encoding":{"x":{"datum":90.5,"scale":{"domain":[86,232]},"axis":{"values":[100,125,150,175,200,225],"title":null}},"y":{"datum":1.766,"scale":{"domain":[-2,2]},"axis":{"values":[-2,-1.5,-1,-0.5,0,0.5,1,1.5,2],"format":".1f","title":"Normalised Expression","titleX":-62,"titleY":-22,"titleAngle":-90,"titleAlign":"center","titleBaseline":"middle","titleFontSize":25}},"text":{"field":"th"}}}
]},
{"width":176,"height":364,"layer":[
{"data":{"name":"c6"},"mark":{"type":"area","interpolate":"monotone","clip":true,"color":"#e8c400","opacity":0.22},"encoding":{"x":{"field":"t","type":"quantitative","scale":{"domain":[86,232]},"axis":{"values":[100,125,150,175,200,225],"title":"Time AEL (mins)","titleX":192,"titleY":49,"titleAlign":"center","titleBaseline":"middle","titleAngle":0,"titleFontSize":24}},"y":{"field":"lo","type":"quantitative","scale":{"domain":[-2,2]},"axis":null},"y2":{"field":"hi"}}},
{"data":{"name":"c6"},"mark":{"type":"line","interpolate":"monotone","clip":true,"color":"#e8c400","strokeWidth":1.6},"encoding":{"x":{"field":"t","type":"quantitative","scale":{"domain":[86,232]},"axis":{"values":[100,125,150,175,200,225],"title":"Time AEL (mins)","titleX":192,"titleY":49,"titleAlign":"center","titleBaseline":"middle","titleAngle":0,"titleFontSize":24}},"y":{"field":"m","type":"quantitative","scale":{"domain":[-2,2]},"axis":null}}},
{"data":{"name":"p6"},"mark":{"type":"circle","clip":true,"color":"#e8c400"},"encoding":{"x":{"field":"t","type":"quantitative","scale":{"domain":[86,232]},"axis":{"values":[100,125,150,175,200,225],"title":"Time AEL (mins)","titleX":192,"titleY":49,"titleAlign":"center","titleBaseline":"middle","titleAngle":0,"titleFontSize":24}},"y":{"field":"v","type":"quantitative","scale":{"domain":[-2,2]},"axis":null}}},
{"data":{"values":[{"n":"n = 3"}]},"mark":{"type":"rect","fill":"#ffffff","stroke":"#333333","strokeWidth":1},"encoding":{"x":{"datum":185.5,"scale":{"domain":[86,232]},"axis":{"values":[100,125,150,175,200,225],"title":"Time AEL (mins)","titleX":192,"titleY":49,"titleAlign":"center","titleBaseline":"middle","titleAngle":0,"titleFontSize":24}},"x2":{"datum":242.8},"y":{"datum":2.209,"scale":{"domain":[-2,2]},"axis":null},"y2":{"datum":1.89}}},
{"data":{"values":[{"n":"n = 3"}]},"mark":{"type":"text","fontSize":24,"color":"#111111"},"encoding":{"x":{"datum":214.2,"scale":{"domain":[86,232]},"axis":{"values":[100,125,150,175,200,225],"title":"Time AEL (mins)","titleX":192,"titleY":49,"titleAlign":"center","titleBaseline":"middle","titleAngle":0,"titleFontSize":24}},"y":{"datum":2.05,"scale":{"domain":[-2,2]},"axis":null},"text":{"field":"n"}}}
]},
{"width":176,"height":364,"layer":[
{"data":{"name":"c7"},"mark":{"type":"area","interpolate":"monotone","clip":true,"color":"#c8891e","opacity":0.22},"encoding":{"x":{"field":"t","type":"quantitative","scale":{"domain":[86,232]},"axis":{"values":[100,125,150,175,200,225],"title":null}},"y":{"field":"lo","type":"quantitative","scale":{"domain":[-2,2]},"axis":null},"y2":{"field":"hi"}}},
{"data":{"name":"c7"},"mark":{"type":"line","interpolate":"monotone","clip":true,"color":"#c8891e","strokeWidth":1.6},"encoding":{"x":{"field":"t","type":"quantitative","scale":{"domain":[86,232]},"axis":{"values":[100,125,150,175,200,225],"title":null}},"y":{"field":"m","type":"quantitative","scale":{"domain":[-2,2]},"axis":null}}},
{"data":{"name":"p7"},"mark":{"type":"circle","clip":true,"color":"#c8891e"},"encoding":{"x":{"field":"t","type":"quantitative","scale":{"domain":[86,232]},"axis":{"values":[100,125,150,175,200,225],"title":null}},"y":{"field":"v","type":"quantitative","scale":{"domain":[-2,2]},"axis":null}}},
{"data":{"values":[{"n":"n = 1"}]},"mark":{"type":"rect","fill":"#ffffff","stroke":"#333333","strokeWidth":1},"encoding":{"x":{"datum":183.1,"scale":{"domain":[86,232]},"axis":{"values":[100,125,150,175,200,225],"title":null}},"x2":{"datum":239.5},"y":{"datum":2.165,"scale":{"domain":[-2,2]},"axis":null},"y2":{"datum":1.89}}},
{"data":{"values":[{"n":"n = 1"}]},"mark":{"type":"text","fontSize":24,"color":"#111111"},"encoding":{"x":{"datum":211.3,"scale":{"domain":[86,232]},"axis":{"values":[100,125,150,175,200,225],"title":null}},"y":{"datum":2.03,"scale":{"domain":[-2,2]},"axis":null},"text":{"field":"n"}}}
]}
]}
]
}
